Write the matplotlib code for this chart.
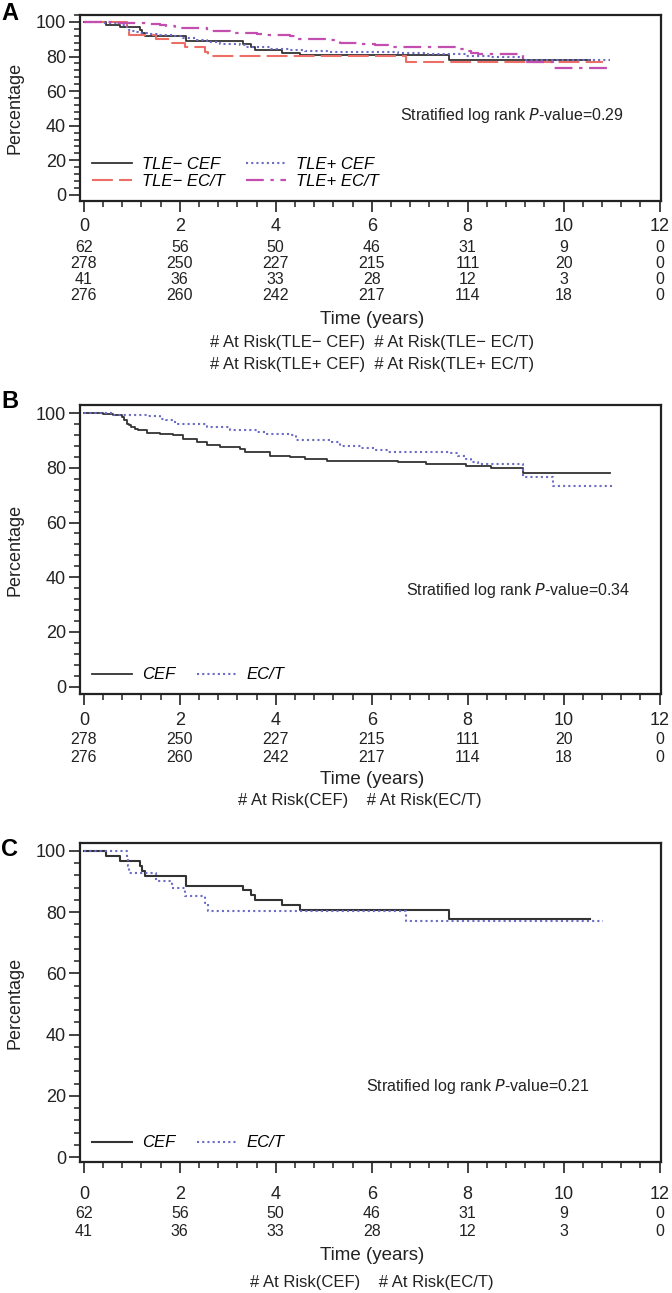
import matplotlib
matplotlib.use("Agg")
import matplotlib.pyplot as plt
from matplotlib.ticker import MultipleLocator
from matplotlib.transforms import blended_transform_factory

plt.rcParams['font.family'] = ['Liberation Sans Narrow', 'Liberation Sans', 'DejaVu Sans']

W, H = 672, 1293

# Kaplan-Meier step curves (years, %)
tle_neg_cef_t = [0, 0.47, 0.75, 1.17, 1.22, 1.27, 2.13, 3.31, 3.49, 3.56, 4.12, 4.5, 7.61, 10.55]
tle_neg_cef_v = [100, 98.4, 96.8, 95.2, 93.5, 91.9, 88.7, 87.1, 85.5, 83.9, 82.3, 80.6, 77.8, 77.8]

tle_neg_ect_t = [0, 0.89, 0.92, 0.95, 1.51, 1.83, 2.1, 2.53, 2.58, 6.72, 10.82]
tle_neg_ect_v = [100, 97.6, 95.1, 92.7, 90.2, 87.8, 85.4, 82.9, 80.5, 77.0, 77.0]

tle_pos_cef_t = [0, 0.40, 0.61, 0.79, 0.84, 0.89, 0.94, 0.99, 1.06, 1.13, 1.31, 1.58, 1.86, 2.07,
                 2.35, 2.56, 2.83, 3.25, 3.35, 3.88, 4.29, 4.6, 5.06, 6.55, 7.14, 7.97, 8.49,
                 9.15, 10.97]
tle_pos_cef_v = [100, 99.6, 99.3, 98.5, 97.4, 96.2, 95.5, 94.9, 94.3, 93.7, 92.8, 92.5, 91.9, 90.6,
                 89.4, 88.4, 87.5, 86.9, 85.7, 84.4, 83.8, 83.2, 82.6, 82.0, 81.4, 80.5, 79.8,
                 78.0, 78.0]

tle_pos_ect_t = [0, 0.61, 1.24, 1.31, 1.58, 1.72, 1.9, 2.56, 3.04, 3.6, 3.77, 4.29, 4.43, 5.13,
                 5.33, 5.78, 6.06, 6.34, 7.66, 7.8, 7.97, 8.08, 8.22, 9.15, 9.77, 11.0]
tle_pos_ect_v = [100, 99.4, 99.3, 99.0, 98.0, 97.4, 96.2, 94.9, 93.7, 93.1, 92.5, 92.1, 90.2, 89.4,
                 88.1, 87.3, 86.5, 85.7, 85.3, 84.4, 83.2, 82.0, 81.4, 76.8, 73.5, 73.5]

# numbers at risk
risk_times = [0, 2, 4, 6, 8, 10, 12]
risk_tle_neg_cef = [62, 56, 50, 46, 31, 9, 0]
risk_tle_neg_ect = [41, 36, 33, 28, 12, 3, 0]
risk_tle_pos_cef = [278, 250, 227, 215, 111, 20, 0]
risk_tle_pos_ect = [276, 260, 242, 217, 114, 18, 0]

p_values = ["0.29", "0.34", "0.21"]

col_black = '#333333'
col_blue = '#6a6cc6'
col_red = '#ec6e66'
col_mag = '#c24fb0'

fig = plt.figure(figsize=(W / 100, H / 100), dpi=100)


def frac(py):
    return 1 - py / H


def setup(ax, ylim, pad):
    ax.set_xlim(-0.08, 12.03)
    ax.set_ylim(*ylim)
    ax.xaxis.set_major_locator(MultipleLocator(2))
    ax.xaxis.set_minor_locator(MultipleLocator(0.4))
    ax.yaxis.set_major_locator(MultipleLocator(20))
    ax.yaxis.set_minor_locator(MultipleLocator(4))
    ax.tick_params(which='major', direction='out', length=8, width=1.2, labelsize=13,
                   color='#222222', labelcolor='#222222')
    ax.tick_params(which='minor', direction='out', length=4, width=1.1, color='#222222')
    ax.tick_params(axis='x', pad=pad)
    ax.tick_params(axis='y', pad=2)
    for s in ax.spines.values():
        s.set_linewidth(1.6)
        s.set_color('#222222')


def below(ax, x, py, s, size=11.5, **kw):
    tr = blended_transform_factory(ax.transData, fig.transFigure)
    ax.text(x, frac(py), s, transform=tr, ha='center', va='center', fontsize=size,
            color='#222222', clip_on=False, **kw)


def stratified(ax, x, y, p):
    ax.text(x, y, "Stratified log rank $\\mathit{P}$-value=" + p, fontsize=11.5,
            color='#222222', ha='left', va='center')


def legend(ax, **kw):
    ax.legend(loc='lower left', ncol=2, frameon=False, handlelength=2.4, handletextpad=0.6,
              columnspacing=1.3, borderaxespad=0.3, prop={'style': 'italic', 'size': 12}, **kw)


left, width = 80 / W, 581 / W

# ---- Panel A ----
axA = fig.add_axes([left, frac(201), width, (201 - 15) / H])
setup(axA, (-3.5, 104), 4)
axA.step(tle_neg_cef_t, tle_neg_cef_v, where='post', color=col_black, lw=1.3, label='TLE− CEF')
axA.step(tle_neg_ect_t, tle_neg_ect_v, where='post', color=col_red, lw=1.5,
         linestyle=(0, (10, 3)), label='TLE− EC/T')
axA.step(tle_pos_cef_t, tle_pos_cef_v, where='post', color=col_blue, lw=1.5,
         linestyle=(0, (1, 1.5)), label='TLE+ CEF')
axA.step(tle_pos_ect_t, tle_pos_ect_v, where='post', color=col_mag, lw=1.6,
         linestyle=(0, (8, 3, 1.5, 3)), label='TLE+ EC/T')
legend(axA, labelspacing=0.15)
stratified(axA, 6.6, 46, p_values[0])
for i, t in enumerate(risk_times):
    below(axA, t, 248, risk_tle_neg_cef[i])
    below(axA, t, 263.5, risk_tle_pos_cef[i])
    below(axA, t, 279.5, risk_tle_neg_ect[i])
    below(axA, t, 295, risk_tle_pos_ect[i])
below(axA, 6, 320, "Time (years)", size=13.5)
below(axA, 6, 343, "# At Risk(TLE− CEF)  # At Risk(TLE− EC/T)", size=12)
below(axA, 6, 364, "# At Risk(TLE+ CEF)  # At Risk(TLE+ EC/T)", size=12)

# ---- Panel B ----
axB = fig.add_axes([left, frac(694), width, (694 - 405.5) / H])
setup(axB, (-2.7, 102.8), 5)
axB.step(tle_pos_cef_t, tle_pos_cef_v, where='post', color=col_black, lw=1.3, label='CEF')
axB.step(tle_pos_ect_t, tle_pos_ect_v, where='post', color=col_blue, lw=1.5,
         linestyle=(0, (1, 1.5)), label='EC/T')
legend(axB)
stratified(axB, 6.72, 35, p_values[1])
for i, t in enumerate(risk_times):
    below(axB, t, 740, risk_tle_pos_cef[i])
    below(axB, t, 757, risk_tle_pos_ect[i])
below(axB, 6, 780, "Time (years)", size=13.5)
below(axB, 5.75, 800, "# At Risk(CEF)    # At Risk(EC/T)", size=12)

# ---- Panel C ----
axC = fig.add_axes([left, frac(1162), width, (1162 - 843) / H])
setup(axC, (-1.6, 102.6), 9)
axC.step(tle_neg_cef_t, tle_neg_cef_v, where='post', color=col_black, lw=1.5, label='CEF')
axC.step(tle_neg_ect_t, tle_neg_ect_v, where='post', color=col_blue, lw=1.5,
         linestyle=(0, (1, 1.5)), label='EC/T')
legend(axC)
stratified(axC, 5.88, 23.2, p_values[2])
for i, t in enumerate(risk_times):
    below(axC, t, 1213, risk_tle_neg_cef[i])
    below(axC, t, 1232, risk_tle_neg_ect[i])
below(axC, 6, 1255, "Time (years)", size=13.5)
below(axC, 6, 1282, "# At Risk(CEF)    # At Risk(EC/T)", size=12)

# y labels and panel letters
for ax, letter, ly in [(axA, 'A', 14), (axB, 'B', 402), (axC, 'C', 849)]:
    pos = ax.get_position()
    fig.text(15 / W, pos.y0 + pos.height / 2, "Percentage", rotation=90, ha='center',
             va='center', fontsize=13, color='#222222')
    fig.text(10 / W, frac(ly), letter, ha='center', va='center', fontsize=17,
             fontweight='bold', family=['Liberation Sans', 'DejaVu Sans'])

fig.savefig('out.png', dpi=100)
